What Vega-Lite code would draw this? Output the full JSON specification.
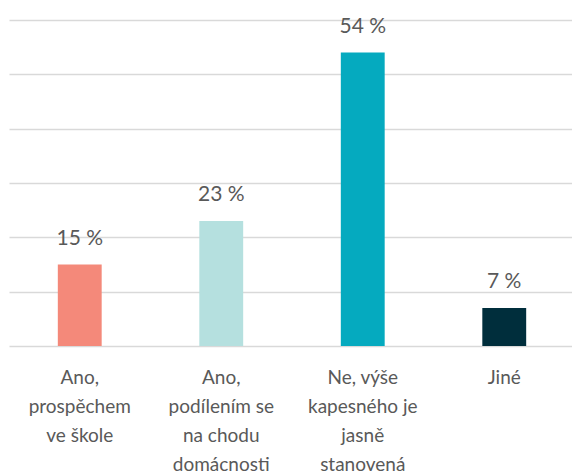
{
  "$schema": "https://vega.github.io/schema/vega-lite/v6.json",
  "width": 566,
  "height": 326,
  "autosize": {"type": "none"},
  "padding": {"left": 9, "top": 20, "right": 0, "bottom": 126},
  "background": "white",
  "config": {"view": {"stroke": null}, "font": "Lato"},
  "data": {
    "values": [
      {"cat": "Ano,|prospěchem|ve škole", "value": 15, "color": "#F4897A"},
      {"cat": "Ano,|podílením se|na chodu|domácnosti", "value": 23, "color": "#B5E0DF"},
      {"cat": "Ne, výše|kapesného je|jasně|stanovená", "value": 54, "color": "#05AABF"},
      {"cat": "Jiné", "value": 7, "color": "#002E3C"}
    ]
  },
  "transform": [{"calculate": "datum.value + ' %'", "as": "lbl"}],
  "encoding": {
    "x": {
      "field": "cat",
      "type": "nominal",
      "sort": null,
      "scale": {"paddingInner": 0.69, "paddingOuter": 0.345},
      "axis": {
        "title": null,
        "domain": false,
        "ticks": false,
        "labelAngle": 0,
        "labelExpr": "split(datum.label, '|')",
        "labelFont": "Lato",
        "labelFontSize": 19,
        "labelColor": "#595959",
        "labelLineHeight": 29.3,
        "labelPadding": 22,
        "labelBaseline": "top",
        "labelOverlap": false,
        "labelBound": false
      }
    },
    "y": {
      "field": "value",
      "type": "quantitative",
      "scale": {"domain": [0, 60]},
      "axis": {
        "title": null,
        "labels": false,
        "ticks": false,
        "domain": false,
        "values": [0, 10, 20, 30, 40, 50, 60],
        "gridColor": "#D9D9D9",
        "gridWidth": 1.5
      }
    }
  },
  "layer": [
    {
      "mark": {"type": "bar"},
      "encoding": {"color": {"field": "color", "type": "nominal", "scale": null}}
    },
    {
      "mark": {"type": "text", "baseline": "bottom", "dy": -16, "fontSize": 21, "color": "#595959", "font": "Lato"},
      "encoding": {"text": {"field": "lbl", "type": "nominal"}}
    }
  ]
}
